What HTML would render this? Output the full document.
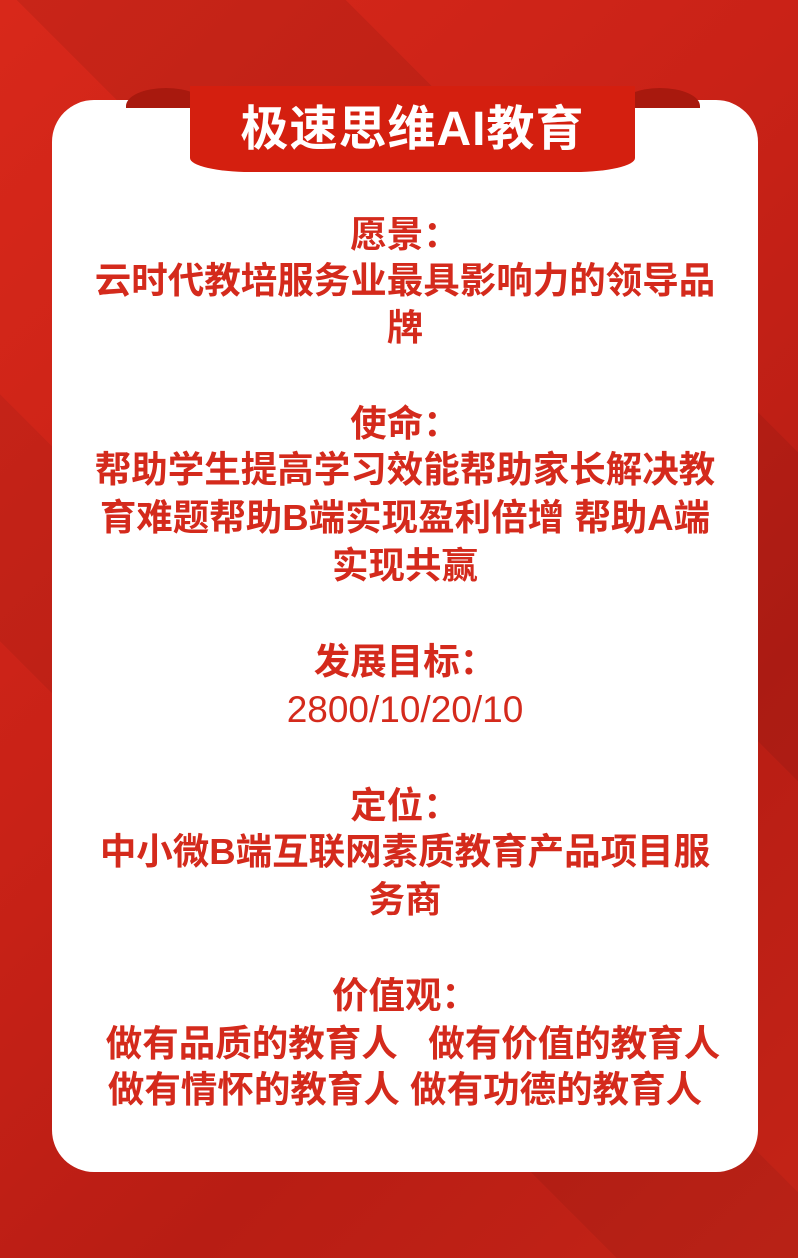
<!DOCTYPE html>
<html><head><meta charset="utf-8">
<style>
html,body{margin:0;padding:0;width:798px;height:1258px;overflow:hidden;}
body{position:relative;
background:
linear-gradient(45deg,rgba(0,0,0,0) 0%,rgba(0,0,0,0) 30%,rgba(0,0,0,0.06) 30%,rgba(0,0,0,0.06) 42%,rgba(0,0,0,0) 42%,rgba(0,0,0,0) 62%,rgba(0,0,0,0.07) 62%,rgba(0,0,0,0.07) 78%,rgba(0,0,0,0) 78%),
linear-gradient(135deg,#d8281a 0%,#c92217 40%,#b81d14 70%,#c42417 100%);
font-family:"Liberation Sans","Noto Sans CJK SC",sans-serif;}
.card{position:absolute;left:52px;top:100px;width:706px;height:1072px;background:#fff;border-radius:42px;}
.ear{position:absolute;top:88px;width:80px;height:20px;background:#a8190e;border-radius:40px 40px 0 0/18px 18px 0 0;}
.banner{position:absolute;left:190px;top:86px;width:445px;height:86px;background:#d41f0f;border-radius:0 0 60px 60px/0 0 14px 14px;}
.title{position:absolute;left:190px;width:445px;top:102px;text-align:center;color:#fff;font-weight:bold;font-size:48px;line-height:56px;letter-spacing:1px;}
.l{position:absolute;left:0;width:810px;text-align:center;color:#d42a1c;font-weight:bold;font-size:36.5px;line-height:40px;white-space:pre;}
</style></head><body>
<div class="card"></div>
<div class="ear" style="left:126px;"></div>
<div class="ear" style="left:620px;"></div>
<div class="banner"></div>
<div class="title">极速思维AI教育</div>

<div class="l" style="top:215px">愿景：</div>
<div class="l" style="top:261px">云时代教培服务业最具影响力的领导品</div>
<div class="l" style="top:308px">牌</div>

<div class="l" style="top:404px">使命：</div>
<div class="l" style="top:450px">帮助学生提高学习效能帮助家长解决教</div>
<div class="l" style="top:498px">育难题帮助B端实现盈利倍增 帮助A端</div>
<div class="l" style="top:546px">实现共赢</div>

<div class="l" style="top:642px">发展目标：</div>
<div class="l" style="top:690px;font-weight:normal;font-size:37px">2800/10/20/10</div>

<div class="l" style="top:786px">定位：</div>
<div class="l" style="top:832px">中小微B端互联网素质教育产品项目服</div>
<div class="l" style="top:880px">务商</div>

<div class="l" style="top:976px">价值观：</div>
<div class="l" style="top:1024px;left:8px">做有品质的教育人   做有价值的教育人</div>
<div class="l" style="top:1070px">做有情怀的教育人 做有功德的教育人</div>
</body></html>
